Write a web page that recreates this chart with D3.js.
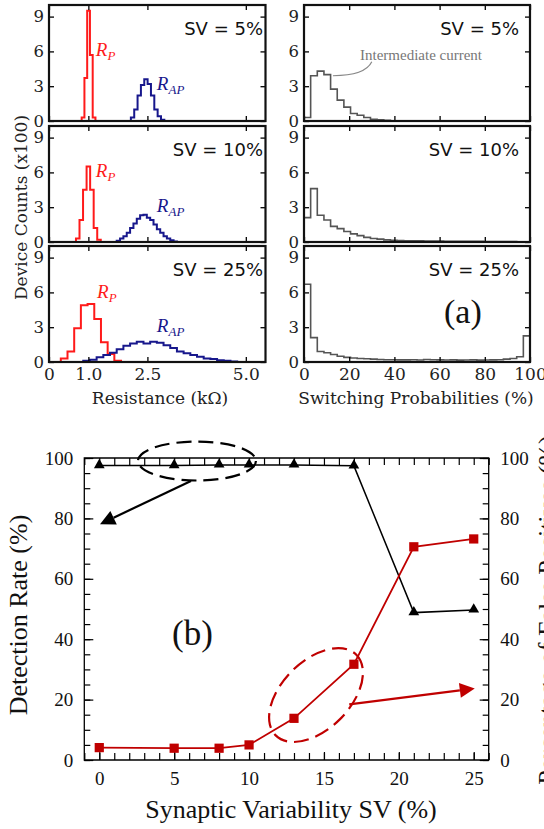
<!DOCTYPE html>
<html><head><meta charset="utf-8">
<script src="https://cdn.jsdelivr.net/npm/d3@7"></script>
<style>html,body{margin:0;padding:0;background:#fff;} svg{display:block}</style>
</head><body>
<svg id="c" width="544" height="829"></svg>
<script>
// ---------- DATA: panel (a) ----------
const svLevels = ["SV = 5%", "SV = 10%", "SV = 25%"];
// R_P histograms (bin start kOhm, bin width kOhm, counts x100)
const rpStart = [0.83, 0.685, 0.30];
const rpWidth = [0.07, 0.09, 0.17];
const rpCounts5  = [0.3, 3.7, 9.5, 5.7, 0.3];
const rpCounts10 = [0.3, 1.9, 4.5, 6.5, 4.5, 1.2, 0.2];
const rpCounts25 = [0.3, 0.9, 2.9, 4.9, 5.0, 3.7, 1.7, 0.7, 0.1];
// R_AP histograms
const rapStart = [2.08, 1.72, 0.87];
const rapWidth = [0.085, 0.085, 0.17];
const rapCounts5  = [0.3, 1.0, 2.2, 3.1, 3.6, 3.2, 2.2, 1.0, 0.4, 0.1];
const rapCounts10 = [0.1, 0.3, 0.5, 0.8, 1.2, 1.6, 2.0, 2.3, 2.35, 2.1, 1.9, 1.5, 1.1, 0.8, 0.5, 0.3, 0.15, 0.05];
const rapCounts25 = [0.1, 0.2, 0.4, 0.6, 0.8, 1.1, 1.4, 1.6, 1.75, 1.6, 1.75, 1.65, 1.45, 1.2, 0.9, 0.75, 0.6, 0.45, 0.3, 0.25, 0.15, 0.1, 0.05];
// Switching probability histograms (34 bins over 0-100 %)
const spBins = 34;
const sp5  = [0.3, 3.9, 4.3, 4.0, 2.75, 1.8, 1.2, 0.65, 0.5, 0.3, 0.15, 0.1, 0.05, 0.02, 0, 0, 0, 0, 0, 0, 0, 0, 0, 0, 0, 0, 0, 0, 0, 0, 0, 0, 0, 0];
const sp10 = [2.1, 4.6, 2.3, 1.9, 1.35, 1.15, 0.9, 0.7, 0.55, 0.4, 0.3, 0.25, 0.18, 0.15, 0.12, 0.1, 0.1, 0.1, 0.09, 0.08, 0.08, 0.07, 0.07, 0.06, 0.06, 0.05, 0.05, 0.04, 0.04, 0.03, 0.03, 0.03, 0.02, 0.02];
const sp25 = [6.7, 2.1, 0.9, 0.8, 0.65, 0.5, 0.4, 0.35, 0.3, 0.28, 0.25, 0.22, 0.2, 0.2, 0.18, 0.18, 0.2, 0.17, 0.22, 0.2, 0.18, 0.17, 0.18, 0.16, 0.17, 0.18, 0.16, 0.17, 0.18, 0.2, 0.25, 0.3, 0.45, 2.25];
const resTicks = [0, 1.0, 2.5, 5.0];
const resTickLabels = ["0", "1.0", "2.5", "5.0"];
const spTicks = [0, 20, 40, 60, 80, 100];
const countTicks = [0, 3, 6, 9];

// ---------- DATA: panel (b) ----------
const svX = [0, 5, 8, 10, 13, 17, 21, 25];
const detectionRate = [97.5, 97.5, 97.7, 97.7, 97.7, 97.4, 48.8, 49.7];
const falsePositives = [4.1, 3.9, 3.9, 5.0, 13.8, 31.7, 70.6, 73.2];
const bXTicks = [0, 5, 10, 15, 20, 25];
const bYTicks = [0, 20, 40, 60, 80, 100];

const rpAll = [rpCounts5, rpCounts10, rpCounts25];
const rapAll = [rapCounts5, rapCounts10, rapCounts25];
const spAll = [sp5, sp10, sp25];

const svg = d3.select("#c");
const SERIF_A = "'DejaVu Serif', serif";
const SANS_A = "'DejaVu Sans', sans-serif";
const TIMES = "'Liberation Serif', 'Times New Roman', serif";

// ---------- (a) layout ----------
const rowTops = [5, 126, 246];
const rowH = 116;
const xRes = d3.scaleLinear().domain([0, 5.5]).range([49, 265.5]);
const xSp = d3.scaleLinear().domain([0, 100]).range([304, 530]);

function stepPoints(start, w, vals) {
  const pts = [[start, 0]];
  vals.forEach((v, i) => { pts.push([start + i * w, v]); pts.push([start + (i + 1) * w, v]); });
  pts.push([start + vals.length * w, 0]);
  return pts;
}

function framePanel(x, y, xt, showXLabels, xLabels) {
  const [x0, x1] = x.range();
  const [yb, yt] = y.range();
  const g = svg.append("g");
  const ay = g.append("g").attr("transform", `translate(${x0},0)`)
    .call(d3.axisLeft(y).tickValues(countTicks).tickSize(-5).tickPadding(5).tickFormat(d3.format("d")));
  ay.select(".domain").remove();
  ay.selectAll("line").attr("stroke", "#000").attr("stroke-width", 1.3);
  ay.selectAll("text").attr("font-family", SERIF_A).attr("font-size", 16.5).attr("fill", "#222");
  const ay2 = g.append("g").attr("transform", `translate(${x1},0)`)
    .call(d3.axisRight(y).tickValues(countTicks).tickSize(-5).tickFormat(""));
  ay2.select(".domain").remove();
  ay2.selectAll("line").attr("stroke", "#000").attr("stroke-width", 1.3);
  const ax = g.append("g").attr("transform", `translate(0,${yb})`)
    .call(d3.axisBottom(x).tickValues(xt).tickSize(-5).tickPadding(6)
      .tickFormat((d, i) => showXLabels ? xLabels[i] : ""));
  ax.select(".domain").remove();
  ax.selectAll("line").attr("stroke", "#000").attr("stroke-width", 1.3);
  ax.selectAll("text").attr("font-family", SERIF_A).attr("font-size", 17).attr("fill", "#222");
  const ax2 = g.append("g").attr("transform", `translate(0,${yt})`)
    .call(d3.axisTop(x).tickValues(xt).tickSize(-5).tickFormat(""));
  ax2.select(".domain").remove();
  ax2.selectAll("line").attr("stroke", "#000").attr("stroke-width", 1.3);
  g.append("rect").attr("x", x0).attr("y", yt).attr("width", x1 - x0).attr("height", yb - yt)
    .attr("fill", "none").attr("stroke", "#111").attr("stroke-width", 2.2);
}

rowTops.forEach((top, i) => {
  const y = d3.scaleLinear().domain([0, 10]).range([top + rowH, top]);
  const line = (x) => d3.line().x(d => x(d[0])).y(d => y(d[1]));
  const clipId = "clipL" + i, clipId2 = "clipR" + i;
  svg.append("clipPath").attr("id", clipId).append("rect")
    .attr("x", xRes.range()[0]).attr("y", top).attr("width", xRes.range()[1] - xRes.range()[0]).attr("height", rowH);
  svg.append("clipPath").attr("id", clipId2).append("rect")
    .attr("x", xSp.range()[0]).attr("y", top).attr("width", xSp.range()[1] - xSp.range()[0]).attr("height", rowH);

  const gl = svg.append("g").attr("clip-path", `url(#${clipId})`);
  gl.append("path").attr("d", line(xRes)(stepPoints(rpStart[i], rpWidth[i], rpAll[i])))
    .attr("fill", "none").attr("stroke", "#ff1a1a").attr("stroke-width", 2);
  gl.append("path").attr("d", line(xRes)(stepPoints(rapStart[i], rapWidth[i], rapAll[i])))
    .attr("fill", "none").attr("stroke", "#17178c").attr("stroke-width", 2);
  const gr = svg.append("g").attr("clip-path", `url(#${clipId2})`);
  gr.append("path").attr("d", line(xSp)(stepPoints(0, 100 / spBins, spAll[i])))
    .attr("fill", "none").attr("stroke", "#555").attr("stroke-width", 1.6);

  framePanel(xRes, y, resTicks, i === 2, resTickLabels);
  framePanel(xSp, y, spTicks, i === 2, spTicks.map(String));

  svg.append("text").attr("x", 263).attr("y", top + 30).attr("text-anchor", "end")
    .attr("font-family", SANS_A).attr("font-size", 18).attr("fill", "#111").text(svLevels[i]);
  svg.append("text").attr("x", 519).attr("y", top + 30).attr("text-anchor", "end")
    .attr("font-family", SANS_A).attr("font-size", 18).attr("fill", "#111").text(svLevels[i]);

  const rpPos = [[1.19, 5.6], [1.19, 5.6], [1.22, 5.5]][i];
  const rapPos = [[2.74, 2.7], [2.74, 2.6], [2.74, 2.6]][i];
  const t1 = svg.append("text").attr("x", xRes(rpPos[0])).attr("y", y(rpPos[1]))
    .attr("font-family", TIMES).attr("font-style", "italic").attr("font-size", 19).attr("fill", "#ff1a1a");
  t1.append("tspan").text("R");
  t1.append("tspan").attr("dy", 4).attr("font-size", 13).text("P");
  const t2 = svg.append("text").attr("x", xRes(rapPos[0])).attr("y", y(rapPos[1]))
    .attr("font-family", TIMES).attr("font-style", "italic").attr("font-size", 19).attr("fill", "#17178c");
  t2.append("tspan").text("R");
  t2.append("tspan").attr("dy", 4).attr("font-size", 13).text("AP");

  if (i === 0) {
    svg.append("path")
      .attr("d", `M${xSp(12.8)},${y(3.9)} Q${xSp(27)},${y(3.9)} ${xSp(30)},${y(5.1)}`)
      .attr("fill", "none").attr("stroke", "#888").attr("stroke-width", 1.2);
    svg.append("text").attr("x", 360).attr("y", y(5.25)).attr("font-family", TIMES)
      .attr("font-size", 15).attr("fill", "#777").text("Intermediate current");
  }
});

svg.append("text").attr("transform", "translate(27,207.5) rotate(-90)").attr("text-anchor", "middle")
  .attr("font-family", SERIF_A).attr("font-size", 17).attr("fill", "#222").text("Device Counts (x100)");
svg.append("text").attr("x", 160).attr("y", 404).attr("text-anchor", "middle")
  .attr("font-family", SERIF_A).attr("font-size", 17).attr("fill", "#222").text("Resistance (k\u03A9)");
svg.append("text").attr("x", 416).attr("y", 404).attr("text-anchor", "middle")
  .attr("font-family", SERIF_A).attr("font-size", 17).attr("fill", "#222").text("Switching Probabilities (%)");
svg.append("text").attr("x", 444).attr("y", 323).attr("font-family", TIMES).attr("font-size", 34)
  .attr("fill", "#111").text("(a)");

// ---------- (b) ----------
const xb = d3.scaleLinear().domain([-1, 26]).range([84.3, 488.7]);
const yb = d3.scaleLinear().domain([0, 100]).range([760, 458]);
const RED = "#c00000";

function styleAxis(g, sw) {
  g.select(".domain").remove();
  g.selectAll("line").attr("stroke", "#000").attr("stroke-width", sw || 1.2);
  g.selectAll("text").attr("font-family", TIMES).attr("font-size", 19).attr("fill", "#111");
}
const minorX = d3.range(-1, 27);
const minorY = d3.range(0, 101, 5);
styleAxis(svg.append("g").attr("transform", `translate(0,${yb(0)})`)
  .call(d3.axisBottom(xb).tickValues(minorX).tickSize(-7).tickFormat("")));
styleAxis(svg.append("g").attr("transform", `translate(0,${yb(0)})`)
  .call(d3.axisBottom(xb).tickValues(bXTicks).tickSize(-8).tickPadding(11.5).tickFormat(d3.format("d"))));
styleAxis(svg.append("g").attr("transform", `translate(0,${yb(100)})`)
  .call(d3.axisTop(xb).tickValues(minorX).tickSize(-7).tickFormat("")));
styleAxis(svg.append("g").attr("transform", `translate(${xb(-1)},0)`)
  .call(d3.axisLeft(yb).tickValues(minorY).tickSize(-6).tickFormat("")));
styleAxis(svg.append("g").attr("transform", `translate(${xb(-1)},0)`)
  .call(d3.axisLeft(yb).tickValues(bYTicks).tickSize(-9).tickPadding(11).tickFormat(d3.format("d"))));
styleAxis(svg.append("g").attr("transform", `translate(${xb(26)},0)`)
  .call(d3.axisRight(yb).tickValues(minorY).tickSize(-6).tickFormat("")));
styleAxis(svg.append("g").attr("transform", `translate(${xb(26)},0)`)
  .call(d3.axisRight(yb).tickValues(bYTicks).tickSize(-9).tickPadding(11.6).tickFormat(d3.format("d"))));
svg.append("path")
  .attr("d", `M${xb(-1)},${yb(100)} H${xb(26)} V${yb(0)} H${xb(-1)} Z`)
  .attr("fill", "none").attr("stroke", "#000").attr("stroke-width", 1.3);

svg.append("path").datum(svX.map((x, i) => [x, detectionRate[i]]))
  .attr("d", d3.line().x(d => xb(d[0])).y(d => yb(d[1])))
  .attr("fill", "none").attr("stroke", "#000").attr("stroke-width", 1.5);
svg.append("path").datum(svX.map((x, i) => [x, falsePositives[i]]))
  .attr("d", d3.line().x(d => xb(d[0])).y(d => yb(d[1])))
  .attr("fill", "none").attr("stroke", RED).attr("stroke-width", 1.8);
svg.selectAll(".tri").data(svX.map((x, i) => [x, detectionRate[i]])).enter().append("path")
  .attr("transform", d => `translate(${xb(d[0])},${yb(d[1]) - 0.5})`)
  .attr("d", d3.symbol().type(d3.symbolTriangle).size(50)).attr("fill", "#000");
svg.selectAll(".sq").data(svX.map((x, i) => [x, falsePositives[i]])).enter().append("path")
  .attr("transform", d => `translate(${xb(d[0])},${yb(d[1])})`)
  .attr("d", d3.symbol().type(d3.symbolSquare).size(85)).attr("fill", RED);

const ellipses = [
  { cx: 6.52, cy: 99.0, rx: 59, ry: 19.5, rot: 0, color: "#000" },
  { cx: 14.47, cy: 21.5, rx: 57, ry: 34, rot: -45, color: RED }
];
ellipses.forEach(e => {
  svg.append("ellipse").attr("cx", 0).attr("cy", 0).attr("rx", e.rx).attr("ry", e.ry)
    .attr("transform", `translate(${xb(e.cx)},${yb(e.cy)}) rotate(${e.rot})`)
    .attr("fill", "none").attr("stroke", e.color).attr("stroke-width", 2.2)
    .attr("stroke-dasharray", "15,7");
});
const arrows = [
  { x0: 6.12, y0: 92.4, x1: 0.05, y1: 78.1, color: "#000" },
  { x0: 16.69, y0: 18.4, x1: 25.07, y1: 23.7, color: RED }
];
arrows.forEach(a => {
  const X0 = xb(a.x0), Y0 = yb(a.y0), X1 = xb(a.x1), Y1 = yb(a.y1);
  const dx = X1 - X0, dy = Y1 - Y0, L = Math.hypot(dx, dy);
  const ux = dx / L, uy = dy / L, hl = 15, hw = 7.5;
  const bx = X1 - ux * hl, by = Y1 - uy * hl;
  svg.append("line").attr("x1", X0).attr("y1", Y0).attr("x2", bx).attr("y2", by)
    .attr("stroke", a.color).attr("stroke-width", 2.2);
  svg.append("path")
    .attr("d", `M${X1},${Y1} L${bx - uy * hw},${by + ux * hw} L${bx + uy * hw},${by - ux * hw} Z`)
    .attr("fill", a.color);
});

svg.append("text").attr("x", 172).attr("y", 645).attr("font-family", TIMES).attr("font-size", 35)
  .attr("fill", "#111").text("(b)");
svg.append("text").attr("transform", "translate(27,615) rotate(-90)").attr("text-anchor", "middle")
  .attr("font-family", TIMES).attr("font-size", 26).attr("fill", "#111").text("Detection Rate (%)");
svg.append("text").attr("x", 291).attr("y", 818).attr("text-anchor", "middle")
  .attr("font-family", TIMES).attr("font-size", 26).attr("fill", "#111").text("Synaptic Variability SV (%)");
svg.append("text").attr("transform", "translate(555.5,610) rotate(-90)").attr("text-anchor", "middle")
  .attr("font-family", TIMES).attr("font-size", 26).attr("fill", "#111").text("Percentage of False Positives (%)");
</script></body></html>
